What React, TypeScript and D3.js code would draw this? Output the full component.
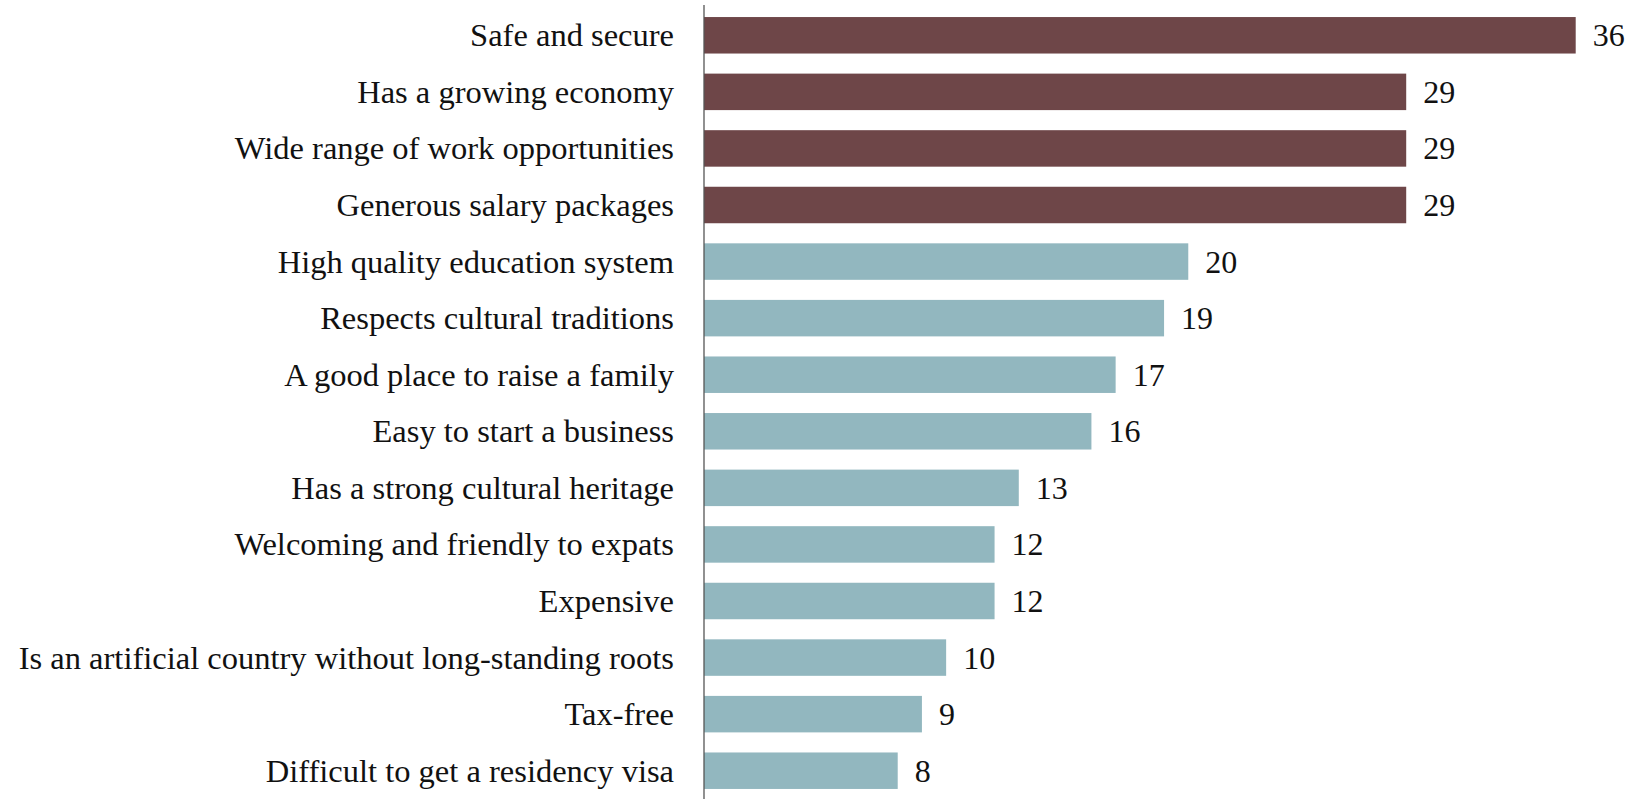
import React from "react";
import * as d3 from "d3";

const categories = [
  "Safe and secure",
  "Has a growing economy",
  "Wide range of work opportunities",
  "Generous salary packages",
  "High quality education system",
  "Respects cultural traditions",
  "A good place to raise a family",
  "Easy to start a business",
  "Has a strong cultural heritage",
  "Welcoming and friendly to expats",
  "Expensive",
  "Is an artificial country without long-standing roots",
  "Tax-free",
  "Difficult to get a residency visa",
];
const values = [36, 29, 29, 29, 20, 19, 17, 16, 13, 12, 12, 10, 9, 8];
const highlighted = [true, true, true, true, false, false, false, false, false, false, false, false, false, false];

const W = 1644;
const H = 799;
const AXIS_X = 704;
const FONT = "'Liberation Serif', 'Times New Roman', serif";

export default function App() {
  const y = d3
    .scaleBand<string>()
    .domain(categories)
    .range([7, 799])
    .paddingInner(0.355)
    .paddingOuter(0.1775);
  const x = d3.scaleLinear().domain([0, 36]).range([AXIS_X, 1575.7]);

  return (
    <svg
      width={W}
      height={H}
      style={{ position: "absolute", left: 0, top: 0, display: "block", background: "#fff" }}
    >
      {categories.map((c, i) => {
        const yc = (y(c) as number) + y.bandwidth() / 2;
        return (
          <g key={c}>
            <rect
              x={x(0)}
              y={y(c)}
              width={x(values[i]) - x(0)}
              height={y.bandwidth()}
              fill={highlighted[i] ? "#6E4648" : "#92B7BF"}
            />
            <text
              x={674}
              y={yc + 11}
              textAnchor="end"
              fontFamily={FONT}
              fontSize={32.5}
              fill="#111"
            >
              {c}
            </text>
            <text
              x={x(values[i]) + 17}
              y={yc + 11}
              fontFamily={FONT}
              fontSize={32}
              fill="#111"
            >
              {values[i]}
            </text>
          </g>
        );
      })}
      <line x1={AXIS_X} x2={AXIS_X} y1={5} y2={H} stroke="#555" strokeWidth={1.3} />
    </svg>
  );
}
